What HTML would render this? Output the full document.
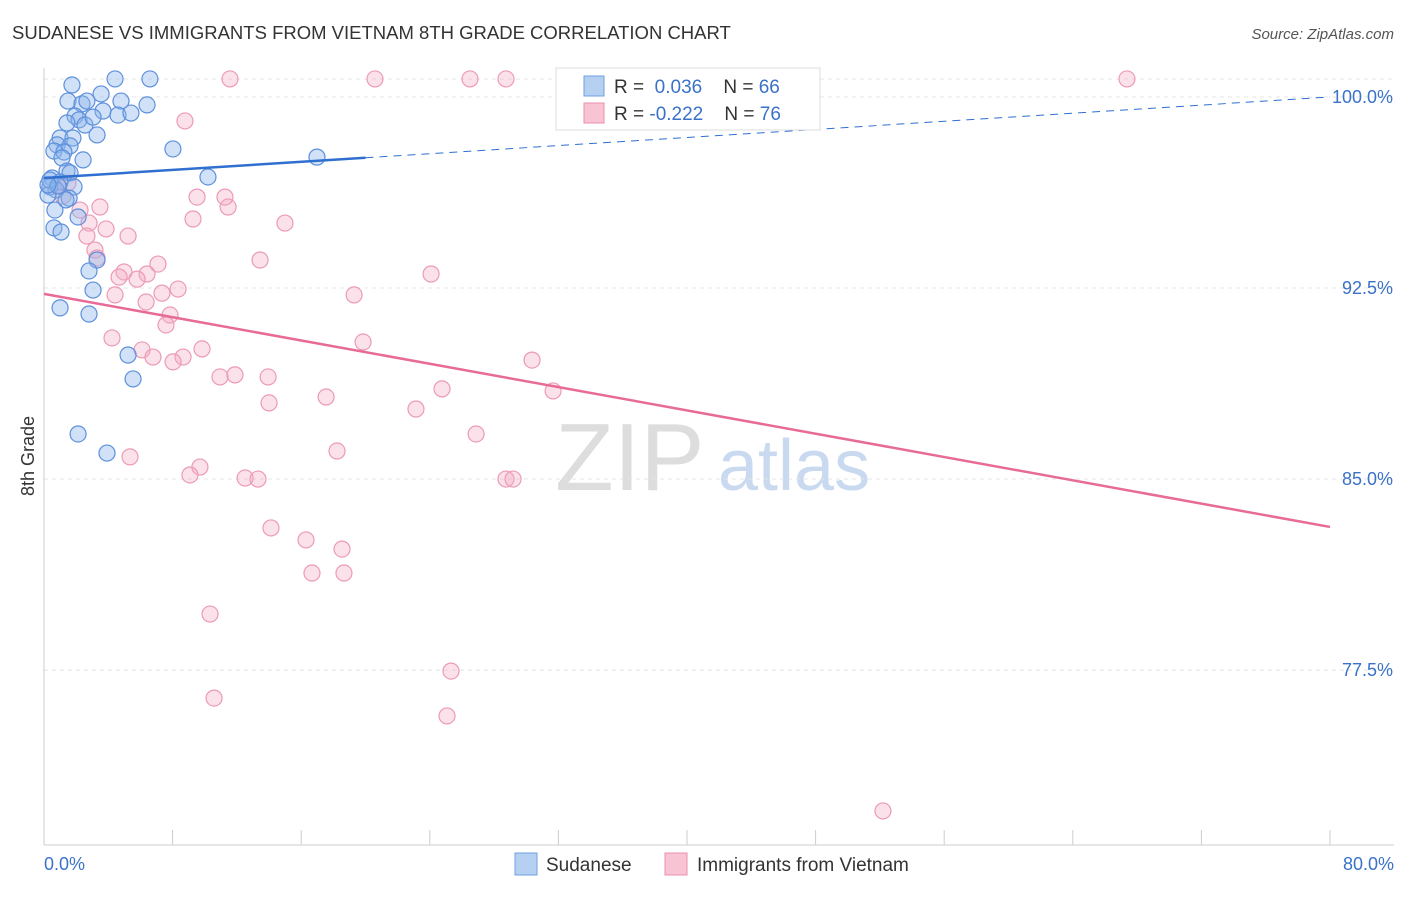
<!DOCTYPE html>
<html><head><meta charset="utf-8">
<style>
body{margin:0;background:#fff;font-family:"Liberation Sans",sans-serif;}
svg text{font-family:"Liberation Sans",sans-serif;}
</style></head>
<body>
<svg id="chart" width="1406" height="892" xmlns="http://www.w3.org/2000/svg">
<text x="12" y="39" font-size="18.5" fill="#333">SUDANESE VS IMMIGRANTS FROM VIETNAM 8TH GRADE CORRELATION CHART</text>
<text x="1394" y="39" font-size="15" fill="#555" text-anchor="end" font-style="italic">Source: ZipAtlas.com</text>
<g>
<text x="555" y="490" font-size="96" fill="#ddd" font-family="Liberation Serif,serif">ZIP</text>
<text x="718" y="490" font-size="72" fill="#c9d9ef">atlas</text>
</g>
<text transform="translate(34,456) rotate(-90)" font-size="18" fill="#333" text-anchor="middle">8th Grade</text>
<g id="grid"></g>
<g id="axes"></g>
<g id="marks"></g>
<g>
<rect x="556" y="68" width="264" height="62" fill="#fff" stroke="#ddd"/>
<rect x="584" y="76" width="20" height="20" fill="#b6d0f2" stroke="#6f9fe0"/>
<text x="614" y="93" font-size="19" fill="#333">R = <tspan fill="#3a72c8">&#160;0.036</tspan>&#160;&#160;&#160;&#160;N = <tspan fill="#3a72c8">66</tspan></text>
<rect x="584" y="103" width="20" height="20" fill="#f8c4d4" stroke="#ea8fae"/>
<text x="614" y="120" font-size="19" fill="#333">R = <tspan fill="#3a72c8">-0.222</tspan>&#160;&#160;&#160;&#160;N = <tspan fill="#3a72c8">76</tspan></text>
</g>
<g>
<rect x="515" y="853" width="22" height="22" fill="#b6d0f2" stroke="#6f9fe0"/>
<text x="546" y="871" font-size="19" fill="#333">Sudanese</text>
<rect x="665" y="853" width="22" height="22" fill="#f8c4d4" stroke="#ea8fae"/>
<text x="697" y="871" font-size="19" fill="#333">Immigrants from Vietnam</text>
</g>
</svg>
<script>
const NS="http://www.w3.org/2000/svg";
const yTicks=[100,92.5,85,77.5];
const yTickLabels=["100.0%","92.5%","85.0%","77.5%"];
const xTickLabels=["0.0%","80.0%"];
const blueX=[1.74,4.42,6.59,1.49,2.36,3.55,4.79,6.41,2.67,3.67,4.60,5.41,1.93,2.18,2.55,1.43,3.05,1.00,1.80,3.30,0.81,1.62,0.62,1.24,1.12,2.43,8.02,16.98,1.43,1.62,10.20,0.50,1.00,1.87,0.37,0.75,0.25,1.56,0.68,2.12,0.62,1.06,3.30,2.80,3.05,1.00,2.80,5.23,5.54,2.12,3.92,0.37,0.87,1.37,0.25];
const blueY=[100.47,100.71,100.71,99.84,99.73,100.12,99.84,99.69,99.84,99.45,99.29,99.37,99.25,99.10,98.90,98.98,99.21,98.39,98.39,98.51,98.12,98.08,97.88,97.84,97.61,97.53,97.96,97.64,97.09,97.02,96.86,96.82,96.66,96.47,96.47,96.35,96.15,96.03,95.56,95.29,94.86,94.70,93.60,93.17,92.42,91.72,91.48,89.87,88.93,86.77,86.02,96.74,96.51,95.96,96.55];
const pinkX=[11.57,20.59,26.50,28.74,43.23,67.37,8.77,9.52,11.45,11.26,14.99,9.27,2.24,3.48,1.49,0.87,1.18,2.80,3.86,5.23,2.67,3.17,3.30,7.09,4.98,4.67,6.41,5.79,8.34,7.34,4.42,6.35,7.84,7.59,13.44,24.08,19.29,19.85,4.23,6.10,6.78,8.65,8.03,9.83,10.95,11.88,13.94,14.00,17.55,24.76,23.14,30.36,31.67,26.88,5.35,9.70,9.08,12.51,13.31,18.23,28.74,29.18,14.12,16.30,18.54,16.67,18.66,10.33,25.32,10.58,25.07,52.19];
const pinkY=[100.71,100.71,100.71,100.71,100.71,100.71,99.06,96.07,95.68,96.07,95.05,95.21,95.56,95.68,96.62,96.55,96.11,95.05,94.82,94.54,94.54,93.99,93.68,93.44,93.13,92.93,93.05,92.85,92.46,92.30,92.23,91.95,91.44,91.05,93.60,93.05,92.23,90.38,90.54,90.07,89.79,89.79,89.60,90.11,89.01,89.09,89.01,87.99,88.22,88.54,87.75,89.67,88.46,86.77,85.87,85.47,85.16,85.04,85.00,86.10,85.00,85.00,83.08,82.61,82.25,81.31,81.31,79.70,77.46,76.40,75.70,71.97];
const blueTrend=[96.82,100.0];
const pinkTrend=[92.27,83.12];
const X=v=>44+v/80*1286;
const Y=v=>97+(100-v)*25.47;
function mk(tag,attrs,parent){const e=document.createElementNS(NS,tag);for(const k in attrs)e.setAttribute(k,attrs[k]);parent.appendChild(e);return e;}
const grid=document.getElementById('grid'),axes=document.getElementById('axes'),marks=document.getElementById('marks');
mk('line',{x1:44,x2:1394,y1:79,y2:79,stroke:'#e4e4e4','stroke-dasharray':'4,4'},grid);
yTicks.forEach((t,i)=>{
 const l=mk('line',{x1:44,x2:1394,y1:Y(t),y2:Y(t),stroke:'#e4e4e4','stroke-dasharray':'4,4'},grid);
 
 
 const tx=mk('text',{x:1393,y:Y(t)+6,'font-size':18,fill:'#3a72c8','text-anchor':'end'},axes);
 tx.textContent=yTickLabels[i];
 
 
});
mk('line',{x1:44,x2:44,y1:68,y2:845,stroke:'#ccc'},axes);
mk('line',{x1:44,x2:1394,y1:845,y2:845,stroke:'#ccc'},axes);
for(let i=0;i<=10;i++){mk('line',{x1:X(i*8),x2:X(i*8),y1:830,y2:845,stroke:'#ccc'},axes);}
const xl0=mk('text',{x:44,y:870,'font-size':18,fill:'#3a72c8'},axes);xl0.textContent=xTickLabels[0];


const xl1=mk('text',{x:1394,y:870,'font-size':18,fill:'#3a72c8','text-anchor':'end'},axes);xl1.textContent=xTickLabels[1];


pinkX.forEach((v,i)=>{const c=mk('circle',{cx:X(v),cy:Y(pinkY[i]),r:8,fill:'rgba(244,170,196,0.35)',stroke:'#ec9ab6','stroke-width':1.2},marks);
 
 });
blueX.forEach((v,i)=>{const c=mk('circle',{cx:X(v),cy:Y(blueY[i]),r:8,fill:'rgba(140,180,235,0.4)',stroke:'#5d90dc','stroke-width':1.2},marks);
 
 });
const bAt=v=>blueTrend[0]+(blueTrend[1]-blueTrend[0])*v/80;
const bl=mk('line',{x1:X(0),y1:Y(bAt(0)),x2:X(20),y2:Y(bAt(20)),stroke:'#2f6fd0','stroke-width':2.5},marks);


const bd=mk('line',{x1:X(20),y1:Y(bAt(20)),x2:X(80),y2:Y(bAt(80)),stroke:'#2f6fd0','stroke-width':1,'stroke-dasharray':'8,6'},marks);


const pl=mk('line',{x1:X(0),y1:Y(pinkTrend[0]),x2:X(80),y2:Y(pinkTrend[1]),stroke:'#e86a97','stroke-width':2.5},marks);


</script>
</body></html>
